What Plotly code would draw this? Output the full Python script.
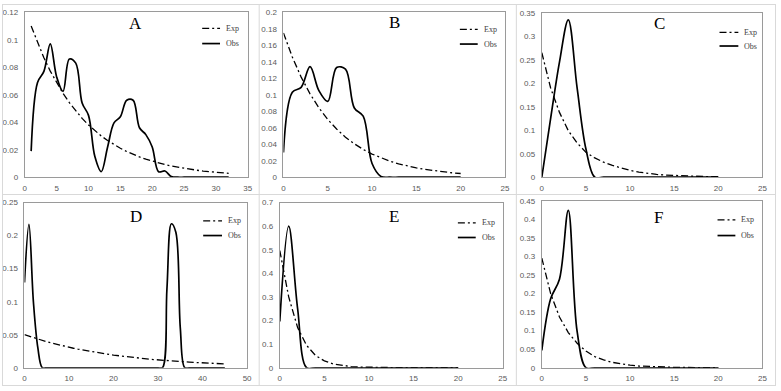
import plotly.graph_objects as go

W, H = 781, 391

# ---------------- data ----------------
# Panel A
a_exp_x = list(range(1, 33))
a_exp_y = [0.110, 0.0978, 0.0869, 0.0772, 0.0686, 0.0610, 0.0542, 0.0481, 0.0428, 0.0380,
           0.0338, 0.0300, 0.0267, 0.0237, 0.0211, 0.0187, 0.0166, 0.0148, 0.0131, 0.0117,
           0.0104, 0.0092, 0.0082, 0.0073, 0.0065, 0.0057, 0.0051, 0.0045, 0.0040, 0.0036,
           0.0032, 0.0028]
a_obs_x = list(range(1, 33))
a_obs_y = [0.019, 0.069, 0.077, 0.097, 0.073, 0.0625, 0.086, 0.083, 0.054, 0.045,
           0.015, 0.004, 0.022, 0.0395, 0.044, 0.056, 0.056, 0.036, 0.031, 0.022,
           0.004, 0.0045, 0.0005, 0, 0, 0, 0, 0, 0, 0,
           0, 0]

# Panel B
b_exp_x = list(range(0, 21))
b_exp_y = [0.175, 0.1457, 0.1214, 0.1011, 0.0842, 0.0701, 0.0584, 0.0486, 0.0405, 0.0337,
           0.0281, 0.0234, 0.0195, 0.0162, 0.0135, 0.0113, 0.0094, 0.0078, 0.0065, 0.0054,
           0.0045]
b_obs_x = list(range(0, 21))
b_obs_y = [0.030, 0.103, 0.109, 0.134, 0.105, 0.092, 0.133, 0.131, 0.084, 0.074,
           0.0166, 0.001, 0, 0, 0, 0, 0, 0, 0, 0,
           0]

# Panel C
c_exp_x = list(range(0, 21))
c_exp_y = [0.265, 0.19, 0.138, 0.099, 0.073, 0.053, 0.041, 0.032, 0.025, 0.019,
           0.0145, 0.011, 0.008, 0.006, 0.0045, 0.0035, 0.0025, 0.002, 0.0015, 0.001,
           0.001]
c_obs_x = list(range(0, 21))
c_obs_y = [0, 0.125, 0.245, 0.335, 0.19, 0.06, 0, 0, 0, 0,
           0, 0, 0, 0, 0, 0, 0, 0, 0, 0,
           0]

# Panel D
d_exp_x = list(range(0, 46))
d_exp_y = [0.0500, 0.0477, 0.0454, 0.0433, 0.0413, 0.0393, 0.0375, 0.0357, 0.0341, 0.0325,
           0.0309, 0.0295, 0.0281, 0.0268, 0.0255, 0.0243, 0.0232, 0.0221, 0.0211, 0.0201,
           0.0191, 0.0182, 0.0174, 0.0166, 0.0158, 0.0151, 0.0143, 0.0137, 0.0130, 0.0124,
           0.0118, 0.0113, 0.0108, 0.0103, 0.0098, 0.0093, 0.0089, 0.0085, 0.0081, 0.0077,
           0.0073, 0.0070, 0.0067, 0.0064, 0.0061, 0.0058]
d_obs_x = list(range(0, 46))
d_obs_y = [0.129, 0.217, 0.10, 0.03, 0, 0, 0, 0, 0, 0,
           0, 0, 0, 0, 0, 0, 0, 0, 0, 0,
           0, 0, 0, 0, 0, 0, 0, 0, 0, 0,
           0, 0, 0.12, 0.218, 0.205, 0.06, 0, 0, 0, 0,
           0, 0, 0, 0, 0, 0]

# Panel E
e_exp_x = list(range(0, 21))
e_exp_y = [0.497, 0.30, 0.17, 0.095, 0.052, 0.029, 0.016, 0.009, 0.005, 0.003,
           0.0018, 0.0011, 0.0007, 0.0004, 0.0002, 0.0001, 0.0001, 0, 0, 0,
           0]
e_obs_x = list(range(0, 21))
e_obs_y = [0.196, 0.60, 0.25, 0, 0, 0, 0, 0, 0, 0,
           0, 0, 0, 0, 0, 0, 0, 0, 0, 0,
           0]

# Panel F
f_exp_x = list(range(0, 21))
f_exp_y = [0.296, 0.20, 0.137, 0.095, 0.066, 0.045, 0.030, 0.021, 0.0145, 0.010,
           0.0068, 0.0046, 0.0032, 0.0022, 0.0015, 0.001, 0.0007, 0.0005, 0.0003, 0.0002,
           0.0001]
f_obs_x = list(range(0, 21))
f_obs_y = [0.047, 0.186, 0.239, 0.425, 0.098, 0, 0, 0, 0, 0,
           0, 0, 0, 0, 0, 0, 0, 0, 0, 0,
           0]

panel_titles = ["A", "B", "C", "D", "E", "F"]
legend_names = ["Exp", "Obs"]

# ---------------- layout geometry (pixels) ----------------
panels = [
    dict(data=(a_exp_x, a_exp_y, a_obs_x, a_obs_y), px=(23, 248), py=(8.5, 177.3),
         xr=(0, 35), xd=5, yr=(0, 0.12), yd=0.02, title=(135, 20),
         leg=(202, 220, 224, 25, 40.5)),
    dict(data=(b_exp_x, b_exp_y, b_obs_x, b_obs_y), px=(284, 507.5), py=(8.5, 177.3),
         xr=(0, 25), xd=5, yr=(0, 0.2), yd=0.02, title=(396, 19),
         leg=(462, 480, 484, 26, 41)),
    dict(data=(c_exp_x, c_exp_y, c_obs_x, c_obs_y), px=(544.7, 767.3), py=(9, 177.3),
         xr=(0, 25), xd=5, yr=(0, 0.35), yd=0.05, title=(663, 20),
         leg=(724, 743, 747, 29, 43)),
    dict(data=(d_exp_x, d_exp_y, d_obs_x, d_obs_y), px=(22.7, 247.3), py=(203.3, 372.3),
         xr=(0, 50), xd=10, yr=(0, 0.25), yd=0.05, title=(135, 218),
         leg=(203, 222, 226, 222, 237)),
    dict(data=(e_exp_x, e_exp_y, e_obs_x, e_obs_y), px=(280.3, 505.3), py=(203.3, 372.3),
         xr=(0, 25), xd=5, yr=(0, 0.7), yd=0.1, title=(396, 218),
         leg=(460, 478, 482, 224, 239)),
    dict(data=(f_exp_x, f_exp_y, f_obs_x, f_obs_y), px=(544.7, 767.3), py=(201.7, 372.3),
         xr=(0, 25), xd=5, yr=(0, 0.45), yd=0.05, title=(662, 219),
         leg=(722, 740, 744, 221, 237)),
]

def fx(p):
    return p / W

def fy(p):
    return 1 - p / H

EXP_DASH = "7px,3px,2px,3px"
fig = go.Figure()
shapes = []
annotations = []
tick_font = dict(family="Liberation Sans, Arial", size=8, color="#595959")
frame_col = "#9a9a9a"

for i, p in enumerate(panels):
    n = "" if i == 0 else str(i + 1)
    ex, ey, ox, oy = p["data"]
    fig.add_trace(go.Scatter(x=ex, y=ey, mode="lines", name=legend_names[0],
                             line=dict(color="black", width=1.3, dash=EXP_DASH),
                             xaxis="x" + n, yaxis="y" + n, showlegend=False))
    fig.add_trace(go.Scatter(x=ox, y=oy, mode="lines", name=legend_names[1],
                             line=dict(color="black", width=1.7, shape="spline", smoothing=1),
                             xaxis="x" + n, yaxis="y" + n, showlegend=False))
    fig.layout["xaxis" + n] = dict(
        domain=[fx(p["px"][0]), fx(p["px"][1])], anchor="y" + n,
        range=list(p["xr"]), dtick=p["xd"], tick0=0, showgrid=False, zeroline=False,
        showline=True, mirror=True, linecolor=frame_col, linewidth=1,
        ticks="", tickfont=tick_font, ticklabelstandoff=3)
    fig.layout["yaxis" + n] = dict(
        domain=[fy(p["py"][1]), fy(p["py"][0])], anchor="x" + n,
        range=list(p["yr"]), dtick=p["yd"], tick0=0, showgrid=False, zeroline=False,
        showline=True, mirror=True, linecolor=frame_col, linewidth=1,
        ticks="", tickfont=tick_font, ticklabelstandoff=4)
    tx, ty = p["title"]
    annotations.append(dict(text=panel_titles[i], x=fx(tx), y=fy(ty), xref="paper", yref="paper",
                            showarrow=False, xanchor="center", yanchor="middle",
                            font=dict(family="Liberation Serif, Times New Roman", size=17, color="black")))
    l0, l1, lt, ye, yo = p["leg"]
    shapes.append(dict(type="line", xref="paper", yref="paper", x0=fx(l0), x1=fx(l1), y0=fy(ye), y1=fy(ye),
                       line=dict(color="black", width=1.3, dash=EXP_DASH)))
    shapes.append(dict(type="line", xref="paper", yref="paper", x0=fx(l0), x1=fx(l1), y0=fy(yo), y1=fy(yo),
                       line=dict(color="black", width=1.7)))
    for name, yy in zip(legend_names, (ye, yo)):
        annotations.append(dict(text=name, x=fx(lt), y=fy(yy), xref="paper", yref="paper",
                                showarrow=False, xanchor="left", yanchor="middle",
                                font=dict(family="Liberation Serif, Times New Roman", size=8, color="#404040")))

# panel boxes
box_col = "#d9d9d9"
for x in (0.5, 259.5, 519, 780.5):
    shapes.append(dict(type="line", xref="paper", yref="paper", x0=fx(x), x1=fx(x), y0=0, y1=1,
                       line=dict(color=box_col, width=1)))
for y in (0.5, 195, 390.5):
    shapes.append(dict(type="line", xref="paper", yref="paper", x0=0, x1=1, y0=fy(y), y1=fy(y),
                       line=dict(color=box_col, width=1)))

fig.update_layout(width=W, height=H, margin=dict(l=0, r=0, t=0, b=0),
                  paper_bgcolor="white", plot_bgcolor="white",
                  shapes=shapes, annotations=annotations, showlegend=False)

fig.write_html("out.html")
